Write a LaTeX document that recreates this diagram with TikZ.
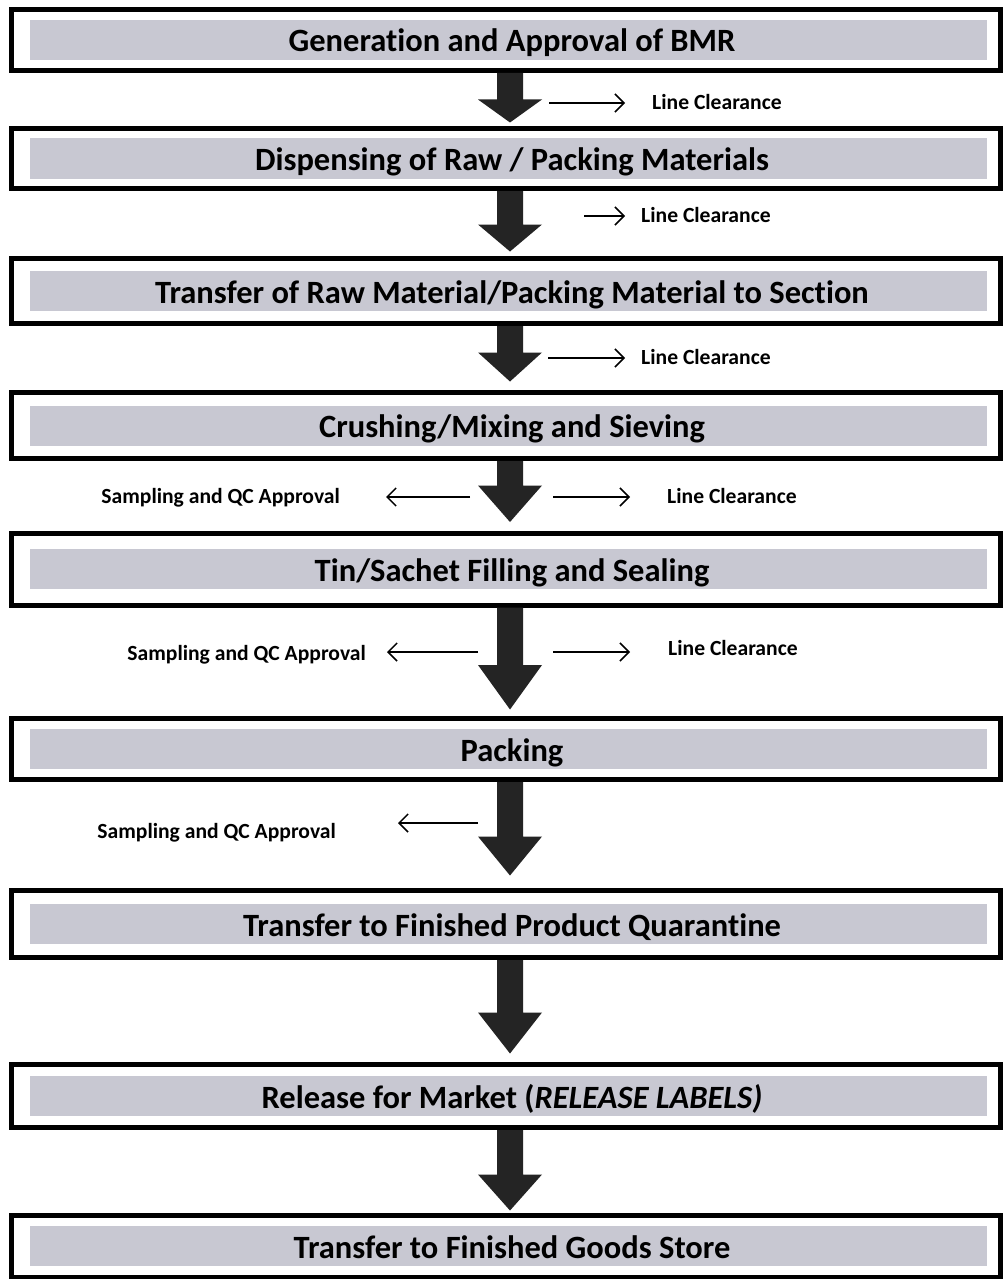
\documentclass[tikz,border=0pt]{standalone}
\usepackage{fontspec}
\setmainfont{Carlito}[Ligatures=NoCommon]
\usetikzlibrary{arrows.meta,calc}

\definecolor{bandgray}{RGB}{200,200,210}
\definecolor{arrowdark}{RGB}{36,36,36}

\tikzset{
  x=1pt, y=1pt,
  stage/.style={draw=black, line width=5pt, fill=white,
    minimum width=989pt, minimum height=#1, inner sep=0pt,
    font=\bfseries\fontsize{32.5}{32.5}\selectfont,
    text height=24pt, text depth=0pt,
    execute at begin node=\hspace*{12pt},
    path picture={\fill[bandgray]
      ($(path picture bounding box.west)+(18,20)$) rectangle
      ($(path picture bounding box.east)+(-14,-20)$);}},
  note/.style={inner sep=0pt, font=\bfseries\fontsize{21.6}{21.6}\selectfont,
    text height=13.8pt, text depth=0pt},
  side/.style={line width=1.5pt, -{Straight Barb[length=9pt,width=18pt,line width=1.5pt]}}
}

% big down arrow between two stages: #1 from, #2 to, #3 shaft length, #4 gap above target
\newcommand\flowarrow[4]{%
  \fill[arrowdark]
    ($(#1.south)+(-9,0)$) -- ($(#1.south)+(17,0)$) --
    ($(#1.south)+(17,-#3)$) -- ($(#1.south)+(36,-#3)$) --
    ($(#2.north)+(4,#4)$) --
    ($(#1.south)+(-28,-#3)$) -- ($(#1.south)+(-9,-#3)$) -- cycle;}

\begin{document}
\begin{tikzpicture}
\fill[white] (0,0) rectangle (1006,-1279);
\useasboundingbox (0,0) rectangle (1006,-1279);

% process stages
\node[stage=61] (b1) at (506,-40)     {Generation and Approval of BMR};
\node[stage=60] (b2) at (506,-158.5)  {Dispensing of Raw / Packing Materials};
\node[stage=65] (b3) at (506,-291)    {Transfer of Raw Material/Packing Material to Section};
\node[stage=66] (b4) at (506,-425.5)  {Crushing/Mixing and Sieving};
\node[stage=72] (b5) at (506,-569)    {Tin/Sachet Filling and Sealing};
\node[stage=61] (b6) at (506,-749)    {Packing};
\node[stage=67] (b7) at (506,-924)    {Transfer to Finished Product Quarantine};
\node[stage=63] (b8) at (506,-1096)   {Release for Market (\textit{RELEASE LABELS)}};
\node[stage=62] (b9) at (506,-1246)   {Transfer to Finished Goods Store};

% main flow
\flowarrow{b1}{b2}{26.5}{3.5}
\flowarrow{b2}{b3}{33.5}{4.5}
\flowarrow{b3}{b4}{26.5}{8.5}
\flowarrow{b4}{b5}{24.5}{8.5}
\flowarrow{b5}{b6}{57.5}{6.5}
\flowarrow{b6}{b7}{54.5}{12.5}
\flowarrow{b7}{b8}{52.5}{8.5}
\flowarrow{b8}{b9}{44.5}{2}

% side notes
\node[note, anchor=west] (lc1) at (652,-103) {Line Clearance};
\node[note, anchor=west] (lc2) at (641,-216) {Line Clearance};
\node[note, anchor=west] (lc3) at (641,-358) {Line Clearance};
\node[note, anchor=west] (lc4) at (667,-497) {Line Clearance};
\node[note, anchor=east] (sq4) at (340,-497) {Sampling and QC Approval};
\node[note, anchor=west] (lc5) at (668,-649) {Line Clearance};
\node[note, anchor=east] (sq5) at (366,-654) {Sampling and QC Approval};
\node[note, anchor=east] (sq6) at (336,-832) {Sampling and QC Approval};

\coordinate (s1) at (549,-103);
\coordinate (s2) at (584,-216);
\coordinate (s3) at (548,-358);
\coordinate (r4) at (553,-497);
\coordinate (l4) at (470,-497);
\coordinate (r5) at (553,-652);
\coordinate (l5) at (478,-652);
\coordinate (l6) at (478,-823);

\draw[side, shorten >=27pt] (s1) -- (s1 -| lc1.west);
\draw[side, shorten >=16pt] (s2) -- (s2 -| lc2.west);
\draw[side, shorten >=16pt] (s3) -- (s3 -| lc3.west);
\draw[side, shorten >=37pt] (r4) -- (r4 -| lc4.west);
\draw[side, shorten >=46pt] (l4) -- (l4 -| sq4.east);
\draw[side, shorten >=38pt] (r5) -- (r5 -| lc5.west);
\draw[side, shorten >=21pt] (l5) -- (l5 -| sq5.east);
\draw[side, shorten >=62pt] (l6) -- (l6 -| sq6.east);
\end{tikzpicture}
\end{document}
